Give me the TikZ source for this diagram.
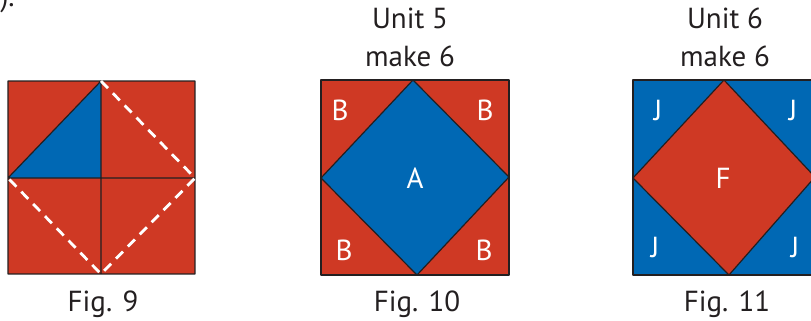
\documentclass[tikz,border=0pt]{standalone}
\usepackage{fontspec}
\setmainfont{PT Sans}
\definecolor{quiltred}{RGB}{207,57,36}
\definecolor{quiltblue}{RGB}{0,104,180}
\definecolor{inktext}{RGB}{35,31,32}
\tikzset{
  seam/.style={line width=0.6pt,draw=inktext},
  cutline/.style={white,line width=1.4pt,dash pattern=on 5pt off 3.5pt},
  patchlabel/.style={white,anchor=base},
  figtext/.style={text=inktext,anchor=base}
}
\begin{document}
\begin{tikzpicture}[x=0.5pt,y=-0.5pt,line join=round,font=\fontsize{14.5}{17}\selectfont]
    \useasboundingbox (0,0) rectangle (811,321);
    \clip (0,0) rectangle (811,321);
    \node[figtext,anchor=base east,inner sep=0pt] (tail) at (15,6) {r).};
    % Fig. 9
    \fill[quiltred] (8,81) rectangle (195,274);
    \fill[quiltblue] (8,178)--(101,81)--(101,178)--cycle;
    \draw[seam] (8,81) rectangle (195,274) (101,81)--(101,274) (8,178)--(195,178) (8,178)--(101,81);
    \draw[cutline] (101,81)--(195,178)--(101,274)--(8,178);
    \node[figtext] (cap9) at (103,312) {Fig. 9};
    % Fig. 10
    \fill[quiltred] (321,80) rectangle (509,275);
    \fill[quiltblue] (413,80)--(509,177)--(417,275)--(321,178)--cycle;
    \draw[seam] (321,80) rectangle (509,275);
    \draw[seam] (413,80)--(509,177)--(417,275)--(321,178)--cycle;
    \node[figtext] (unit5) at (410,28) {Unit 5};
    \node[figtext] (make5) at (410,67) {make 6};
    \node[patchlabel] (b1) at (340,120) {B};
    \node[patchlabel] (b2) at (485,120) {B};
    \node[patchlabel] (b3) at (344,260) {B};
    \node[patchlabel] (b4) at (484,260) {B};
    \node[patchlabel] (a) at (415,188) {A};
    \node[figtext] (cap10) at (417,312) {Fig. 10};
    % Fig. 11
    \fill[quiltblue] (633,80) rectangle (821,275);
    \fill[quiltred] (724,80)--(815,177)--(729,275)--(633,178)--cycle;
    \draw[seam] (633,80) rectangle (821,275);
    \draw[seam] (724,80)--(815,177)--(729,275)--(633,178)--cycle;
    \node[figtext] (unit6) at (725,28) {Unit 6};
    \node[figtext] (make6) at (725,67) {make 6};
    \node[patchlabel] (j1) at (658,120) {J};
    \node[patchlabel] (j2) at (793,120) {J};
    \node[patchlabel] (j3) at (655,257) {J};
    \node[patchlabel] (j4) at (795,257) {J};
    \node[patchlabel] (f) at (723,188) {F};
    \node[figtext] (cap11) at (727,312) {Fig. 11};
\end{tikzpicture}
\end{document}
